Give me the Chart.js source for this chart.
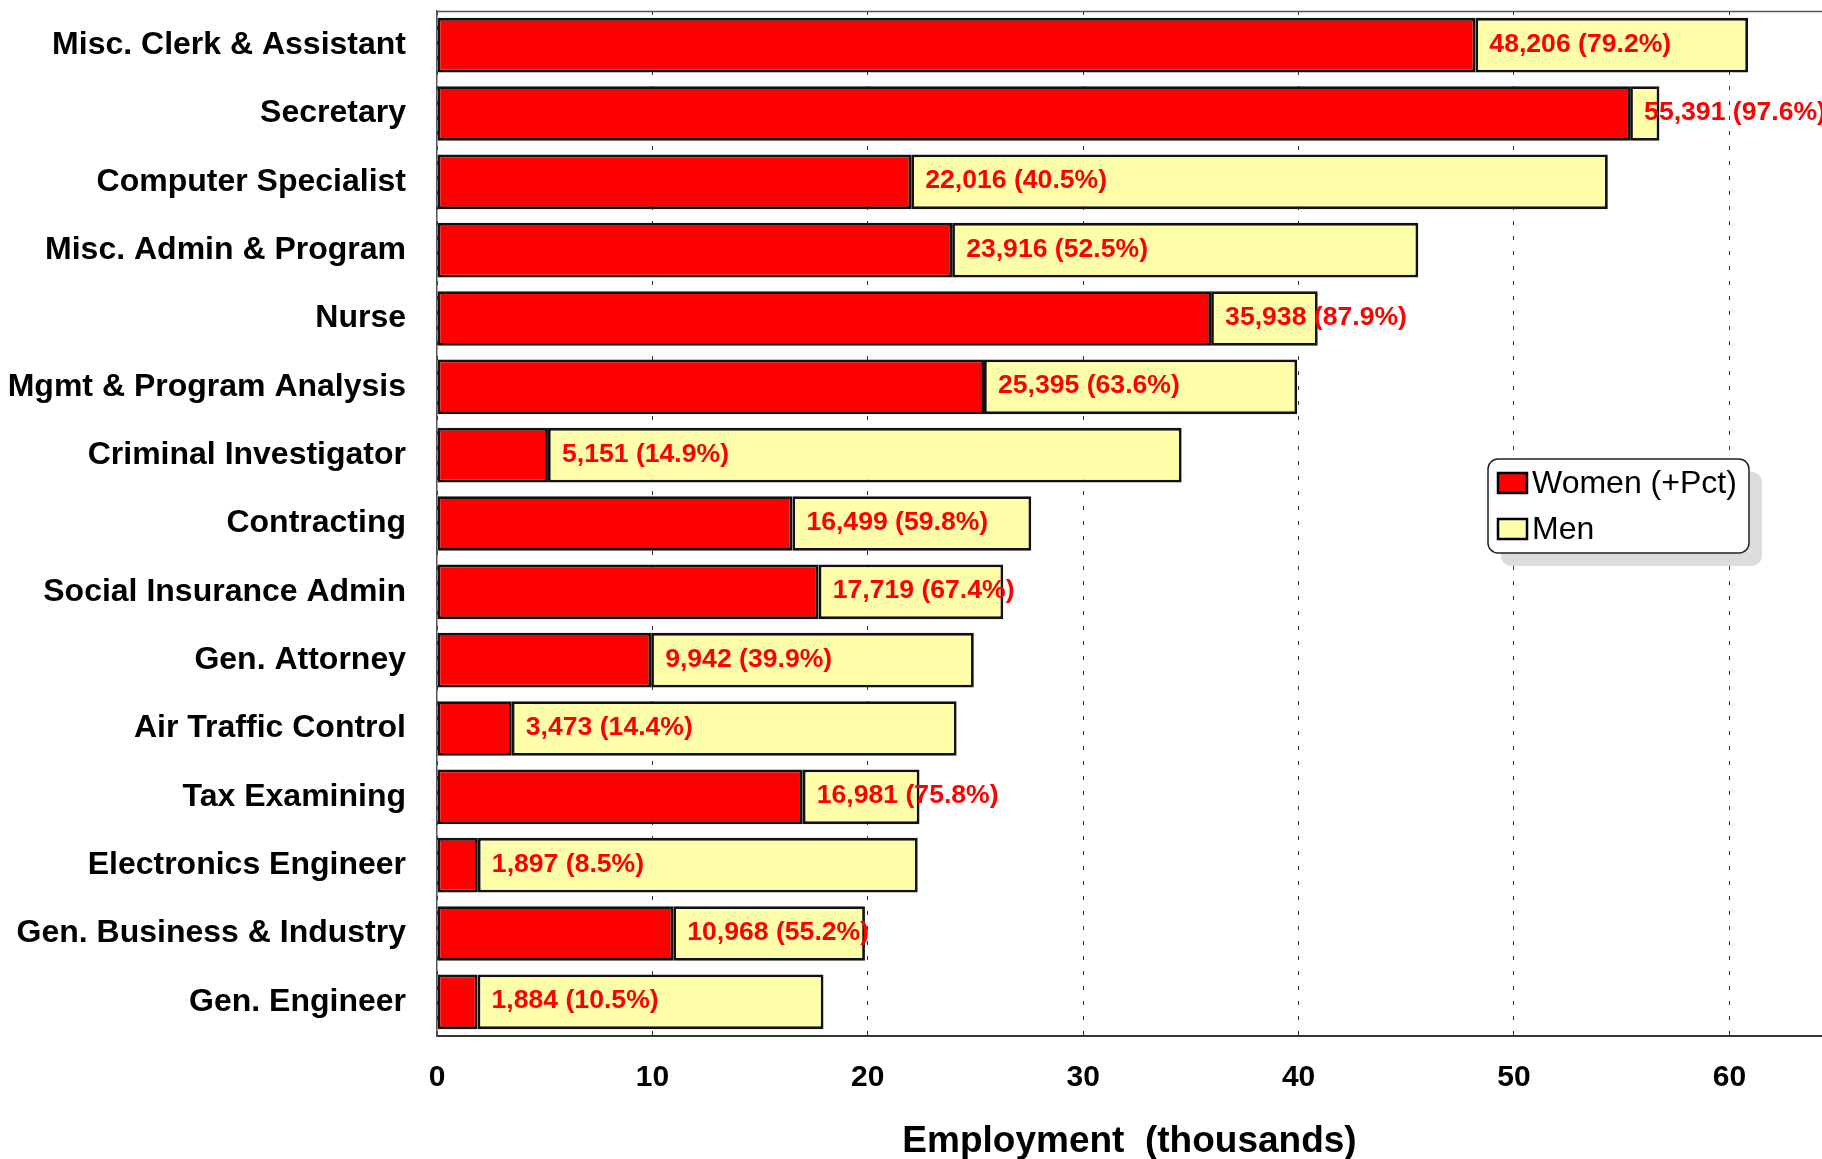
<!DOCTYPE html>
<html>
<head>
<meta charset="utf-8">
<script src="https://cdn.jsdelivr.net/npm/chart.js@4"></script>
<style>
  body { margin: 0; background: #fff; }
  #wrap { width: 1822px; height: 1159px; }
</style>
</head>
<body>
<div id="wrap"><canvas id="chart" width="1822" height="1159"></canvas></div>
<script>
// occupations, top to bottom
const categories = [
    'Misc. Clerk & Assistant', 'Secretary', 'Computer Specialist', 'Misc. Admin & Program',
    'Nurse', 'Mgmt & Program Analysis', 'Criminal Investigator', 'Contracting',
    'Social Insurance Admin', 'Gen. Attorney', 'Air Traffic Control', 'Tax Examining',
    'Electronics Engineer', 'Gen. Business & Industry', 'Gen. Engineer'
];

// employment, thousands
const women = [48.206, 55.391, 22.016, 23.916, 35.938, 25.395, 5.151, 16.499,
    17.719, 9.942, 3.473, 16.981, 1.897, 10.968, 1.884];
const men = [12.66, 1.36, 32.34, 21.64, 4.95, 14.54, 29.42, 11.09,
    8.57, 14.98, 20.65, 5.42, 20.42, 8.90, 16.06];

// share of women, shown next to the count
const womenPct = ['79.2%', '97.6%', '40.5%', '52.5%', '87.9%', '63.6%', '14.9%', '59.8%',
    '67.4%', '39.9%', '14.4%', '75.8%', '8.5%', '55.2%', '10.5%'];

const xTicks = [0, 10, 20, 30, 40, 50, 60];

const FONT = "'Liberation Sans', Arial, sans-serif";

const barLabels = {
    id: 'barLabels',
    afterDatasetsDraw(chart) {
        const ctx = chart.ctx;
        const meta = chart.getDatasetMeta(0);
        ctx.save();
        ctx.font = 'bold 26.6px ' + FONT;
        ctx.fillStyle = '#ff0000';
        ctx.textAlign = 'left';
        ctx.textBaseline = 'middle';
        meta.data.forEach((bar, i) => {
            const n = Math.round(women[i] * 1000).toLocaleString('en-US');
            ctx.fillText(`${n} (${womenPct[i]})`, bar.x + 14, bar.y - 1);
        });
        ctx.restore();
    }
};

const frame = {
    id: 'frame',
    beforeDatasetsDraw(chart) {
        const { ctx, chartArea: a } = chart;
        ctx.save();
        ctx.strokeStyle = '#555';
        ctx.lineWidth = 1.5;
        ctx.beginPath();
        ctx.moveTo(a.left, a.top + 0.5);
        ctx.lineTo(a.right, a.top + 0.5);
        ctx.stroke();
        ctx.restore();
    }
};

// legend box drawn inside the plot, right side
const boxLegend = {
    id: 'boxLegend',
    afterDraw(chart) {
        const ctx = chart.ctx;
        const x = 1488, y = 459, w = 261, h = 94;
        ctx.save();
        ctx.fillStyle = '#dcdcdc';
        ctx.beginPath();
        ctx.roundRect(x + 13, y + 13, w, h, 10);
        ctx.fill();
        ctx.fillStyle = '#fff';
        ctx.strokeStyle = '#222';
        ctx.lineWidth = 1.5;
        ctx.beginPath();
        ctx.roundRect(x, y, w, h, 10);
        ctx.fill();
        ctx.stroke();
        ctx.font = '32px ' + FONT;
        ctx.textBaseline = 'middle';
        chart.data.datasets.forEach((ds, i) => {
            const ry = y + 24 + i * 46;
            ctx.fillStyle = ds.backgroundColor;
            ctx.fillRect(x + 10, ry - 10, 29, 20);
            ctx.strokeStyle = '#000';
            ctx.lineWidth = 2.5;
            ctx.strokeRect(x + 10, ry - 10, 29, 20);
            ctx.fillStyle = '#000';
            ctx.fillText(ds.label, x + 44, ry + 1);
        });
        ctx.restore();
    }
};

new Chart(document.getElementById('chart'), {
    type: 'bar',
    data: {
        labels: categories,
        datasets: [
            { label: 'Women (+Pct)', data: women, backgroundColor: '#ff0000' },
            { label: 'Men', data: men, backgroundColor: '#ffffaa' }
        ]
    },
    options: {
        indexAxis: 'y',
        responsive: false,
        animation: false,
        devicePixelRatio: 1,
        layout: { padding: { top: 11, right: 0, bottom: 0, left: 0 } },
        datasets: {
            bar: {
                borderColor: '#111',
                borderWidth: 2.8,
                borderSkipped: false,
                categoryPercentage: 1,
                barPercentage: 0.8
            }
        },
        plugins: {
            legend: { display: false },
            tooltip: { enabled: false }
        },
        scales: {
            x: {
                stacked: true,
                min: 0,
                max: 64.3,
                afterBuildTicks(axis) {
                    axis.ticks = xTicks.map(v => ({ value: v }));
                },
                afterFit(axis) { axis.height = 123; },
                grid: { color: '#333', lineWidth: 1, drawTicks: false },
                border: { display: true, color: '#333', width: 2, dash: [4, 11] },
                ticks: {
                    color: '#000',
                    padding: 24,
                    font: { family: FONT, size: 30, weight: 'bold' }
                },
                title: {
                    display: true,
                    text: 'Employment  (thousands)',
                    color: '#000',
                    padding: { top: 0, bottom: -5 },
                    font: { family: FONT, size: 37, weight: 'bold' }
                }
            },
            y: {
                stacked: true,
                afterFit(axis) {
                    axis.width = 437;
                    axis.paddingTop = 0;
                    axis.paddingBottom = 0;
                },
                grid: { display: false },
                border: { display: true, color: '#555', width: 1.5 },
                ticks: {
                    color: '#000',
                    padding: 23,
                    font: { family: FONT, size: 32, weight: 'bold' }
                }
            }
        }
    },
    plugins: [frame, barLabels, boxLegend]
});
</script>
</body>
</html>
